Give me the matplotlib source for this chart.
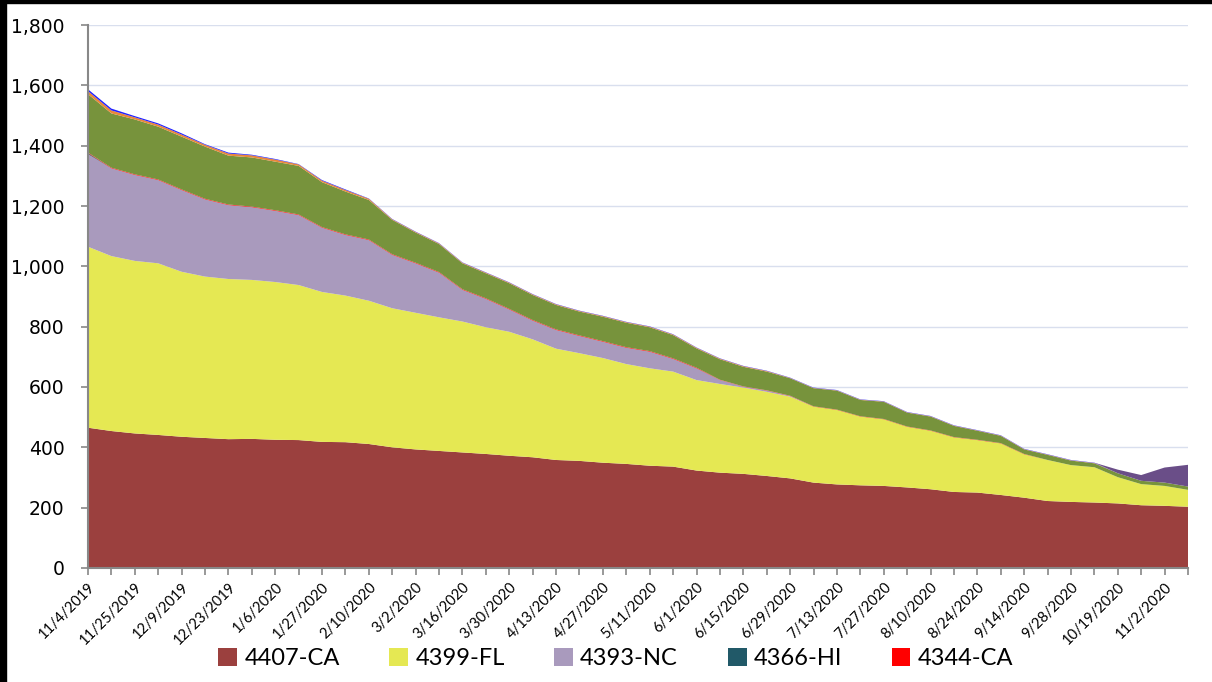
import matplotlib
matplotlib.use("Agg")
import matplotlib.pyplot as plt
from matplotlib.patches import Patch, Rectangle
from matplotlib.ticker import FuncFormatter, MultipleLocator

# weekly report dates (category axis, every second one labelled)
dates = [
    "11/4/2019", "11/18/2019", "11/25/2019", "12/2/2019", "12/9/2019", "12/16/2019",
    "12/23/2019", "12/30/2019", "1/6/2020", "1/20/2020", "1/27/2020", "2/3/2020",
    "2/10/2020", "2/24/2020", "3/2/2020", "3/9/2020", "3/16/2020", "3/23/2020",
    "3/30/2020", "4/6/2020", "4/13/2020", "4/20/2020", "4/27/2020", "5/4/2020",
    "5/11/2020", "5/25/2020", "6/1/2020", "6/8/2020", "6/15/2020", "6/22/2020",
    "6/29/2020", "7/6/2020", "7/13/2020", "7/20/2020", "7/27/2020", "8/3/2020",
    "8/10/2020", "8/17/2020", "8/24/2020", "9/7/2020", "9/14/2020", "9/21/2020",
    "9/28/2020", "10/12/2020", "10/19/2020", "10/26/2020", "11/2/2020", "11/9/2020",
]

ca_4407 = [465, 454, 446, 441, 435, 431, 427, 428, 425, 424, 418, 417, 411, 400, 393, 388,
           383, 378, 372, 367, 358, 355, 349, 345, 339, 336, 323, 316, 312, 305, 297, 283,
           277, 274, 272, 267, 261, 252, 250, 242, 233, 222, 219, 217, 214, 208, 206, 203]
fl_4399 = [600, 580, 572, 569, 547, 535, 531, 527, 523, 514, 497, 486, 475, 461, 453, 443,
           434, 420, 411, 391, 369, 357, 347, 331, 323, 315, 300, 294, 286, 279, 271, 252,
           247, 228, 221, 201, 194, 181, 174, 171, 144, 136, 122, 117, 87, 70, 66, 56]
nc_4393 = [307, 291, 285, 276, 271, 256, 245, 241, 236, 232, 213, 201, 201, 177, 164, 148,
           105, 94, 74, 62, 62, 57, 54, 54, 55, 42, 39, 13, 3, 4, 2, 0,
           0, 0, 0, 0, 0, 0, 0, 0, 0, 0, 0, 0, 0, 0, 0, 0]
hi_4366 = [3, 0, 0, 0, 0, 0, 0, 0, 0, 0, 0, 0, 0, 0, 0, 0,
           0, 0, 0, 0, 0, 0, 0, 0, 0, 0, 0, 0, 0, 0, 0, 0,
           0, 0, 0, 0, 0, 0, 0, 0, 0, 0, 0, 0, 0, 0, 0, 0]
ca_4344 = [2, 2, 2, 2, 2, 2, 2, 2, 2, 2, 2, 2, 2, 2, 2, 2,
           2, 2, 2, 2, 2, 2, 2, 2, 2, 2, 2, 1, 1, 1, 1, 1,
           1, 1, 1, 1, 1, 1, 1, 1, 1, 0, 0, 0, 0, 0, 0, 0]
# series not shown in the (cropped) legend
other_green = [194, 180, 182, 175, 175, 173, 162, 163, 161, 161, 149, 142, 131, 114, 100, 93,
               86, 83, 85, 83, 81, 79, 81, 81, 79, 77, 64, 68, 65, 62, 58, 60,
               63, 54, 57, 46, 46, 37, 30, 24, 15, 17, 15, 13, 13, 11, 11, 11]
other_orange = [10, 10, 7, 7, 7, 6, 7, 7, 7, 5, 5, 5, 4, 2, 2, 2,
                2, 2, 2, 2, 2, 2, 2, 2, 2, 2, 2, 2, 2, 2, 1, 1,
                1, 1, 1, 1, 1, 1, 1, 1, 1, 1, 1, 1, 0, 0, 0, 0]
other_blue = [6, 6, 4, 4, 4, 2, 3, 2, 2, 1, 2, 2, 1, 1, 1, 1,
              1, 1, 1, 1, 1, 1, 1, 1, 1, 1, 1, 1, 1, 1, 1, 1,
              1, 1, 1, 1, 1, 1, 1, 1, 1, 1, 1, 1, 0, 0, 0, 0]
other_purple = [0, 0, 0, 0, 0, 0, 0, 0, 0, 0, 0, 0, 0, 0, 0, 0,
                0, 0, 0, 0, 0, 0, 0, 0, 0, 0, 0, 0, 0, 0, 0, 0,
                0, 0, 0, 0, 0, 0, 0, 0, 0, 0, 0, 0, 12, 19, 50, 72]

legend_names = ["4407-CA", "4399-FL", "4393-NC", "4366-HI", "4344-CA"]
colors = ["#9B403E", "#E5E853", "#A99ABD", "#215968", "#FF0000",
          "#77933C", "#E8873A", "#1F1FFF", "#6A4E88"]

series = [ca_4407, fl_4399, nc_4393, hi_4366, ca_4344,
          other_green, other_orange, other_blue, other_purple]

fig = plt.figure(figsize=(12.12, 6.82), dpi=100)
ax = fig.add_axes([0.0726, 0.1672, 0.9076, 0.7961])

x = list(range(len(dates)))
ax.stackplot(x, *series, colors=colors, linewidth=0)

ax.set_xlim(0, len(dates) - 1)
ax.set_ylim(0, 1800)
ax.yaxis.set_major_locator(MultipleLocator(200))
ax.yaxis.set_major_formatter(FuncFormatter(lambda v, p: f"{int(v):,}"))
ax.grid(axis="y", color="#D9DFEE", linewidth=1)
ax.set_axisbelow(True)

ax.set_xticks(x)
ax.set_xticklabels([d if i % 2 == 0 else "" for i, d in enumerate(dates)],
                   rotation=45, ha="right", rotation_mode="anchor",
                   fontsize=10.5, family="Lato")

for s in ["top", "right"]:
    ax.spines[s].set_visible(False)
for s in ["left", "bottom"]:
    ax.spines[s].set_color("#888888")
    ax.spines[s].set_linewidth(1.5)
ax.tick_params(axis="both", direction="out", color="#888888", length=5, width=1.2)
ax.tick_params(axis="y", labelsize=13.5, pad=12)
ax.tick_params(axis="x", pad=4)

handles = [Patch(facecolor=c) for c in colors[:5]]
fig.legend(handles, legend_names, loc="center", bbox_to_anchor=(0.508, 0.035),
           ncol=5, frameon=False, prop={"family": "Lato", "size": 17},
           handlelength=0.8, handleheight=0.8, handletextpad=0.3, columnspacing=2.1)

# black frame on the left and top edges
fig.add_artist(Rectangle((0, 0), 0.005, 1, transform=fig.transFigure, color="black"))
fig.add_artist(Rectangle((0, 0.995), 1, 0.005, transform=fig.transFigure, color="black"))

fig.savefig("out.png", dpi=100)
